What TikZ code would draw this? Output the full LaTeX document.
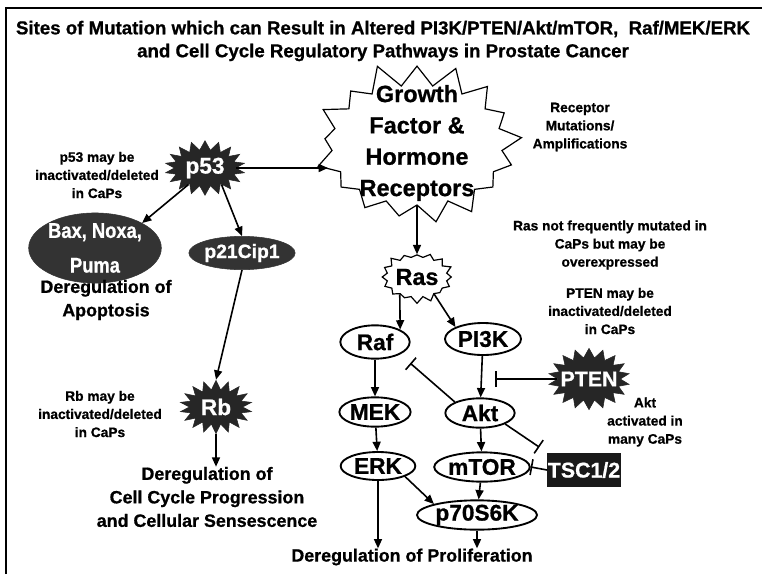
\documentclass[tikz,border=0pt]{standalone}
\usepackage{fontspec}
\setmainfont{Liberation Sans}[FakeBold=0.8]
\newfontfamily\narrowsans{Liberation Sans}[FakeStretch=0.86, FakeBold=0.8]
\usetikzlibrary{shapes.geometric,shapes.symbols,arrows.meta}

\begin{document}
\begin{tikzpicture}[x=0.75pt, y=-0.75pt,
    every node/.style={align=center, inner sep=0pt},
    titletext/.style={font=\bfseries\fontsize{14}{17.2}\selectfont},
    note/.style={font=\bfseries\fontsize{10.3}{13.6}\selectfont},
    outcome/.style={font=\bfseries\fontsize{13.4}{17.6}\selectfont},
    protein/.style={draw, ellipse, line width=1.4pt, font=\bfseries\fontsize{17}{18}\selectfont},
    darkburst/.style={starburst, fill=black!85, draw=black!85, text=white, random starburst=0,
        starburst points=18, starburst point height=7pt, font=\bfseries\fontsize{17}{18}\selectfont},
    lightburst/.style={starburst, draw, fill=white, line width=0.9pt},
    act/.style={-{Triangle[length=7pt,width=6pt]}, line width=1.2pt},
    inh/.style={-{Bar[width=12pt]}, line width=1.2pt}
]
\useasboundingbox (0,0) rectangle (762,574);
\draw[line width=1.6pt] (6,574) -- (6,8) -- (762,8);

\node[titletext] (title) at (383,41) {Sites of Mutation which can Result in Altered PI3K/PTEN/Akt/mTOR,\ \ Raf/MEK/ERK\\and Cell Cycle Regulatory Pathways in Prostate Cancer};

% receptors and the p53 branch
\node[lightburst, minimum width=166pt, minimum height=128pt, starburst points=17,
      starburst point height=19pt, random starburst=11] (gfr) at (417,145) {};
\node[font=\bfseries\fontsize{17.6}{23.5}\selectfont] (gfrtext) at (417,143) {Growth\\Factor \&\\Hormone\\Receptors};
\node[darkburst, minimum width=60pt, minimum height=41pt] (p53) at (205,168) {p53};
\node[draw=black!80, fill=black!80, ellipse, text=white, minimum width=93pt, minimum height=45pt,
      font=\narrowsans\bfseries\fontsize{16}{26}\selectfont] (bax) at (95,248) {Bax, Noxa,\\Puma};
\node[draw=black!80, fill=black!80, ellipse, text=white, minimum width=61pt, minimum height=25pt,
      font=\bfseries\fontsize{14.5}{16}\selectfont] (p21) at (242,253) {p21Cip1};
\node[darkburst, minimum width=54pt, minimum height=40pt] (rb) at (216,407) {Rb};

\node[note] (p53note) at (97,175) {p53 may be\\inactivated/deleted\\in CaPs};
\node[note] (rbnote) at (100,414) {Rb may be\\inactivated/deleted\\in CaPs};
\node[outcome] (apop) at (106,300) {Deregulation of\\Apoptosis};
\node[outcome] (cycle) at (207,497) {Deregulation of\\Cell Cycle Progression\\and Cellular Sensescence};

\draw[act] (p53.east) -- (p53.east -| gfr.west);
\draw[act] (p53.south west) -- (bax.north east);
\draw[act] (p53.south east) -- (p21.north);
\draw[act] (p21.south) -- (rb.north);
\draw[act] (rb.south) -- (rb.south |- cycle.north);

% Ras and the kinase cascades
\node[lightburst, minimum width=52pt, minimum height=40pt, starburst points=16,
      starburst point height=5pt, random starburst=3,
      font=\bfseries\fontsize{17.5}{18}\selectfont] (ras) at (417,277) {Ras};
\node[note] (recnote) at (580,127) {Receptor\\Mutations/\\Amplifications};
\node[note] (rasnote) at (610,245) {Ras not frequently mutated in\\CaPs but may be\\overexpressed};
\node[note] (ptennote) at (610,311) {PTEN may be\\inactivated/deleted\\in CaPs};
\node[note] (aktnote) at (645,422) {Akt\\activated in\\many CaPs};

\node[protein, minimum width=52pt, minimum height=25pt] (raf) at (375,342) {Raf};
\node[protein, minimum width=57pt, minimum height=24pt] (pi3k) at (483,339) {PI3K};
\node[protein, minimum width=52pt, minimum height=22pt] (mek) at (375,412) {MEK};
\node[protein, minimum width=52pt, minimum height=22pt] (akt) at (480,413) {Akt};
\node[protein, minimum width=56pt, minimum height=21pt] (erk) at (378,466) {ERK};
\node[protein, minimum width=67pt, minimum height=22pt] (mtor) at (482,467) {mTOR};
\node[protein, minimum width=90pt, minimum height=22pt] (p70) at (477,515) {p70S6K};
\node[darkburst, minimum width=61pt, minimum height=46pt, inner xsep=-5pt,
      font=\bfseries\fontsize{16}{17}\selectfont] (pten) at (589,379) {PTEN};
\node[rectangle, fill=black!90, text=white, minimum width=55pt, minimum height=26pt,
      font=\bfseries\fontsize{16}{17}\selectfont] (tsc) at (584,470) {TSC1/2};
\node[outcome] (prolif) at (412,557) {Deregulation of Proliferation};

\draw[act] (gfr.south) -- (ras.north);
\draw[act] (ras.south west) -- (raf.north east);
\draw[act] (ras.south east) -- (pi3k.north west);
\draw[act] (raf) -- (mek);
\draw[act] (mek) -- (erk);
\draw[act] (pi3k) -- (akt);
\draw[act] (akt) -- (mtor);
\draw[act] (mtor) -- (p70);
\draw[act] (erk.south east) -- (p70.north west);
\draw[act] (erk.south) -- (erk.south |- prolif.north);
\draw[act] (p70.south) -- (p70.south |- prolif.north);
\draw[inh] (pten.west) -- ([xshift=9pt]pi3k.south |- pten.west);
\draw[inh, shorten >=10pt] (akt.north west) -- (raf.south east);
\draw[inh, shorten >=7pt] (akt.south east) -- (tsc.north west);
\draw[inh] (tsc.west) -- (mtor.east);
\end{tikzpicture}
\end{document}
